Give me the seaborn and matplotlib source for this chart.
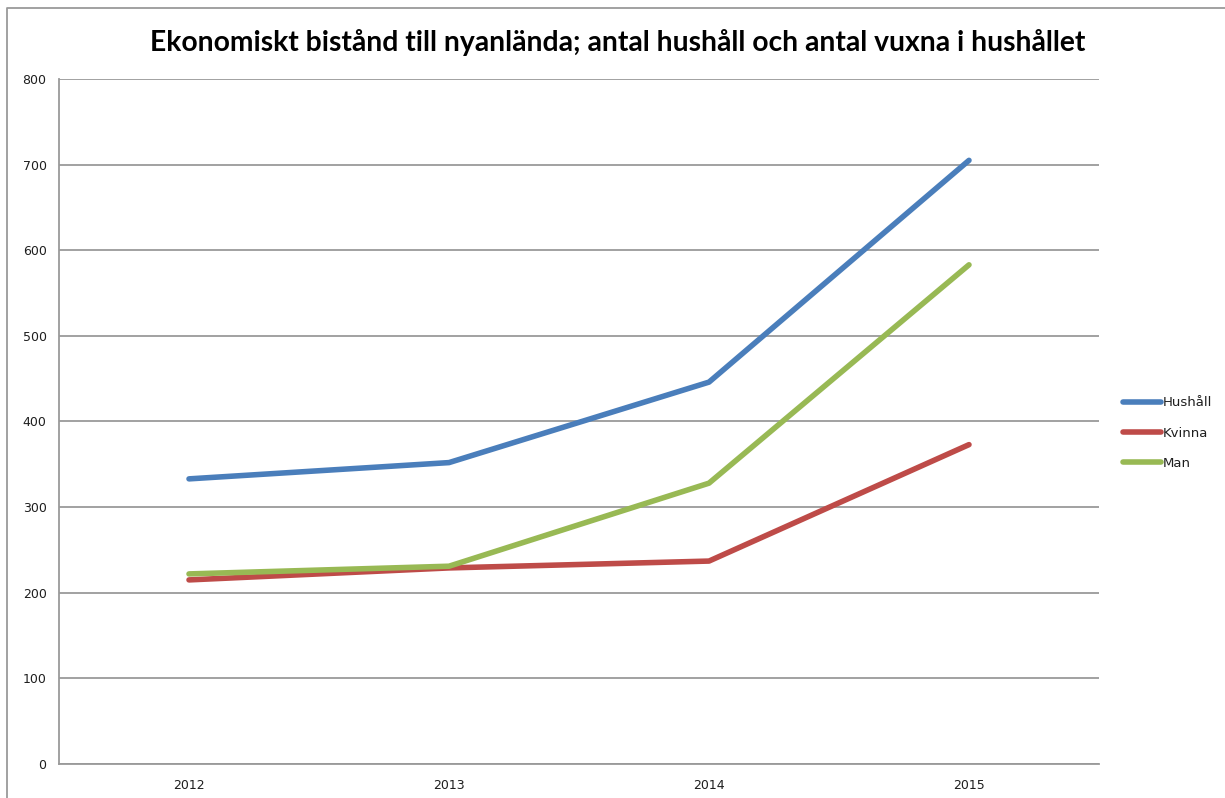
import matplotlib
matplotlib.use("Agg")
import matplotlib.pyplot as plt
from matplotlib.lines import Line2D
import seaborn as sns
import pandas as pd

years = ["2012", "2013", "2014", "2015"]
hushall = [333, 352, 446, 705]
kvinna = [215, 229, 237, 373]
man = [222, 231, 328, 583]
series_names = ["Hushåll", "Kvinna", "Man"]
y_ticks = [0, 100, 200, 300, 400, 500, 600, 700, 800]
title = "Ekonomiskt bistånd till nyanlända; antal hushåll och antal vuxna i hushållet"

rows = []
for name, vals in zip(series_names, [hushall, kvinna, man]):
    for i, (yr, v) in enumerate(zip(years, vals)):
        rows.append({"pos": i, "year": yr, "value": v, "serie": name})
df = pd.DataFrame(rows)

sns.set_theme(style="white")
plt.rcParams["font.family"] = ["DejaVu Sans"]

W, H = 1225, 798
fig = plt.figure(figsize=(W / 100, H / 100), dpi=100)
ax = fig.add_axes([59 / W, 1 - 764 / H, (1099 - 59) / W, (764 - 79) / H])

palette = {"Hushåll": "#4A7EBB", "Kvinna": "#BE4B48", "Man": "#98B954"}
sns.lineplot(data=df, x="pos", y="value", hue="serie", palette=palette,
             linewidth=4.0, ax=ax, legend=True)
for ln in ax.get_lines():
    ln.set_solid_capstyle("round")
    ln.set_solid_joinstyle("round")

grid_c = "#9A9A9A"
text_c = "#1E1E1E"
ax.set_xlim(-0.5, len(years) - 0.5)
ax.set_ylim(0, 800)
ax.set_yticks(y_ticks)
ax.set_yticklabels([str(t) for t in y_ticks], fontsize=9, color=text_c)
ax.set_xticks(range(len(years)))
ax.set_xticklabels(years, fontsize=9, color=text_c)
ax.set_xticks([i - 0.5 for i in range(len(years) + 1)], minor=True)
ax.tick_params(axis="x", which="major", length=0, pad=11)
ax.tick_params(axis="x", which="minor", length=5, width=1.3, color=grid_c, direction="out")
ax.tick_params(axis="y", which="major", length=5, width=1.3, color=grid_c, direction="out", pad=4)
ax.yaxis.grid(True, color=grid_c, linewidth=1.3)
ax.set_axisbelow(True)
ax.set_xlabel("")
ax.set_ylabel("")
for s in ["top", "right"]:
    ax.spines[s].set_visible(False)
for s in ["left", "bottom"]:
    ax.spines[s].set_color(grid_c)
    ax.spines[s].set_linewidth(1.3)

handles, labels = ax.get_legend_handles_labels()
ax.legend_.remove()
leg = fig.legend(handles, labels, loc="center left",
                 bbox_to_anchor=(1123 / W, 1 - 433 / H), frameon=False,
                 fontsize=9.5, handlelength=2.9, handletextpad=0.15,
                 labelspacing=1.3, borderpad=0, borderaxespad=0)
for t in leg.get_texts():
    t.set_color(text_c)

fig.text(618 / W, 1 - 42 / H, title, ha="center", va="center",
         fontsize=20.3, fontweight="bold", family=["Lato", "DejaVu Sans"], color="#000000")

# outer chart border (top and left)
fig.add_artist(Line2D([7 / W, 7 / W, 1.0], [0.0, 1 - 8 / H, 1 - 8 / H],
                      transform=fig.transFigure, color="#9A9A9A", linewidth=1.3))

fig.savefig("out.png", dpi=100)
